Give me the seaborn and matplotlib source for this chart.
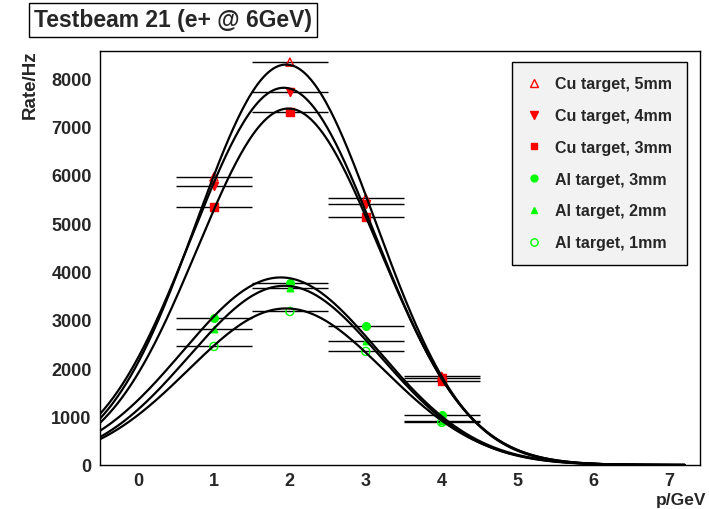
import numpy as np
import pandas as pd
import matplotlib
matplotlib.use("Agg")
import matplotlib.pyplot as plt
import seaborn as sns
from matplotlib.ticker import MultipleLocator
from matplotlib.lines import Line2D

sns.set_style("white")
plt.rcParams["font.family"] = ["Liberation Sans", "DejaVu Sans"]
plt.rcParams["font.weight"] = "bold"

# ---- data ----
momentum = [1, 2, 3, 4]
momentum_err = [0.5, 0.5, 0.5, 0.5]
cu_5mm = [5957, 8330, 5517, 1833]
cu_4mm = [5771, 7721, 5399, 1791]
cu_3mm = [5337, 7300, 5138, 1736]
al_3mm = [3037, 3754, 2878, 1040]
al_2mm = [2810, 3663, 2556, 900]
al_1mm = [2452, 3175, 2349, 882]

series_labels = ["Cu target, 5mm", "Cu target, 4mm", "Cu target, 3mm",
                 "Al target, 3mm", "Al target, 2mm", "Al target, 1mm"]
series_values = [cu_5mm, cu_4mm, cu_3mm, al_3mm, al_2mm, al_1mm]

# Gaussian fit parameters (amplitude, mean, sigma)
fit_amp = [8280, 7800, 7370, 3878, 3705, 3237]
fit_mean = [1.95, 1.92, 1.98, 1.88, 1.93, 1.95]
fit_sigma = [1.18, 1.21, 1.20, 1.29, 1.26, 1.29]
fit_range = [-0.5, 7.2]

# ---- styles ----
marker_styles = ["^", "v", "s", "o", "^", "o"]
marker_fill = [False, True, True, True, True, False]
marker_color = ["#ff0000"] * 3 + ["#00ff00"] * 3
marker_size = [34, 34, 30, 30, 22, 34]

fig = plt.figure(figsize=(7.09, 5.10), dpi=100)
ax = fig.add_axes([100 / 709, 44 / 510, 600 / 709, 414 / 510])

# error bars (horizontal only)
for vals in series_values:
    ax.errorbar(momentum, vals, xerr=momentum_err, fmt="none",
                ecolor="black", elinewidth=1.0, capsize=0, zorder=2)

# markers
handles = []
for lab, vals, m, filled, c, s in zip(series_labels, series_values, marker_styles,
                                       marker_fill, marker_color, marker_size):
    df = pd.DataFrame({"p": momentum, "rate": vals})
    sns.scatterplot(data=df, x="p", y="rate", ax=ax, marker=m, s=s,
                    facecolor=c if filled else "none", edgecolor=c,
                    linewidth=1.0, zorder=3, legend=False)
    handles.append(Line2D([], [], linestyle="none", marker=m,
                          markersize=(s ** 0.5) * 0.9,
                          markerfacecolor=c if filled else "none",
                          markeredgecolor=c, markeredgewidth=1.0, label=lab))

# fitted curves
xs = np.linspace(fit_range[0], fit_range[1], 400)
for a, mu, sg in zip(fit_amp, fit_mean, fit_sigma):
    curve = pd.DataFrame({"p": xs, "rate": a * np.exp(-0.5 * ((xs - mu) / sg) ** 2)})
    sns.lineplot(data=curve, x="p", y="rate", ax=ax, color="black",
                 linewidth=1.6, zorder=4, legend=False)

ax.set_xlim(-0.5, 7.4)
ax.set_ylim(0, 8560)
ax.xaxis.set_major_locator(MultipleLocator(1))
ax.xaxis.set_minor_locator(MultipleLocator(0.2))
ax.yaxis.set_major_locator(MultipleLocator(1000))
ax.yaxis.set_minor_locator(MultipleLocator(200))
ax.tick_params(axis="x", which="major", direction="in", length=9.5, width=1.0,
               labelsize=13, pad=5, top=False)
ax.tick_params(axis="x", which="minor", direction="in", length=4.8, width=1.0, top=False)
ax.tick_params(axis="y", which="major", direction="in", length=13, width=1.0,
               labelsize=13, pad=6, right=False)
ax.tick_params(axis="y", which="minor", direction="in", length=6.5, width=1.0, right=False)
for lbl in ax.get_xticklabels() + ax.get_yticklabels():
    lbl.set_fontweight("bold")
for sp in ax.spines.values():
    sp.set_visible(True)
    sp.set_color("black")
    sp.set_linewidth(1.0)

ax.set_xlabel("")
ax.set_ylabel("")
fig.text(706 / 709, 1 - 501 / 510, "p/GeV", ha="right", va="center",
         fontsize=12.5, fontweight="bold")
fig.text(30 / 709, 1 - 85 / 510, "Rate/Hz", ha="center", va="center",
         rotation=90, fontsize=13.5, fontweight="bold")

# title box
fig.text(173 / 709, 1 - 21 / 510, "Testbeam 21 (e+ @ 6GeV)", ha="center", va="center",
         fontsize=16.5, fontweight="bold",
         bbox=dict(boxstyle="square,pad=0.22", facecolor="white", edgecolor="black",
                   linewidth=1.0))

leg = ax.legend(handles=handles, loc="upper left",
                bbox_to_anchor=(512 / 709, 1 - 63 / 510), bbox_transform=fig.transFigure,
                frameon=True, fancybox=False, framealpha=1.0,
                facecolor="#f2f2f2", edgecolor="black",
                prop={"weight": "bold", "size": 11.5},
                labelspacing=1.05, handletextpad=0.82, borderpad=0.9,
                borderaxespad=0, handlelength=1.0)
leg.get_frame().set_linewidth(1.0)

fig.savefig("out.png", dpi=100)
